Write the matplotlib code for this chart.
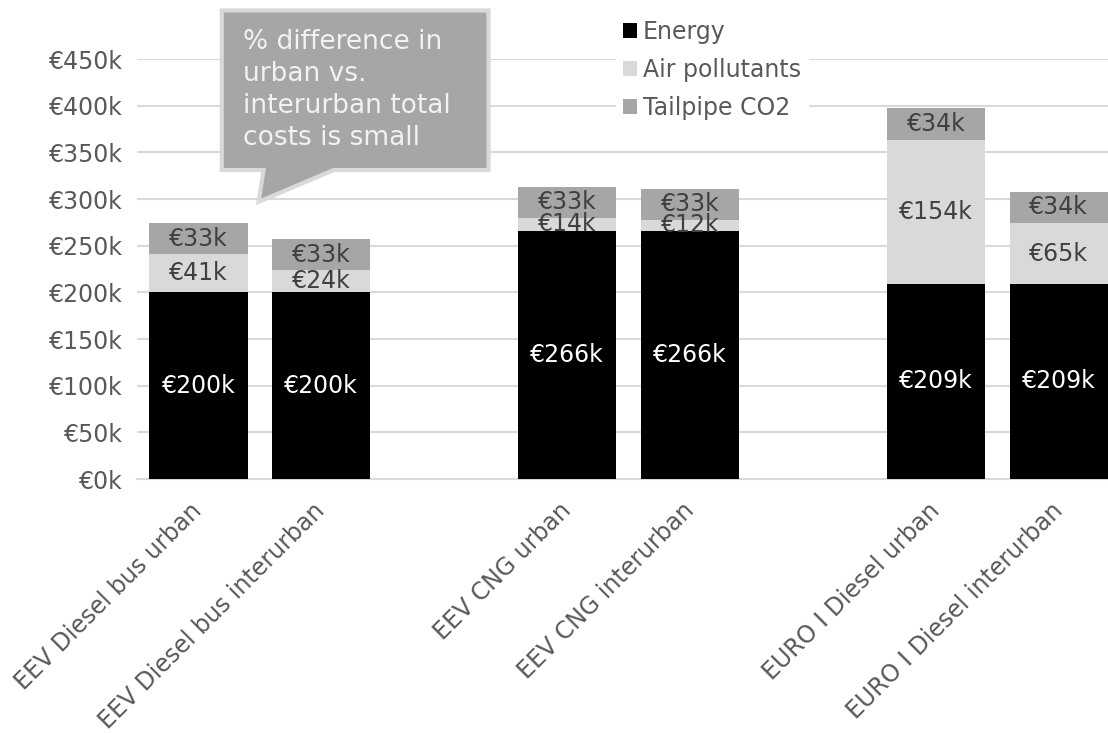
import numpy as np
import matplotlib.pyplot as plt
from matplotlib.patches import Polygon

categories = ['EEV Diesel bus urban', 'EEV Diesel bus interurban',
              'EEV CNG urban', 'EEV CNG interurban',
              'EURO I Diesel urban', 'EURO I Diesel interurban']
positions = [0, 1, 3, 4, 6, 7]
energy = [200, 200, 266, 266, 209, 209]
air_pollutants = [41, 24, 14, 12, 154, 65]
tailpipe_co2 = [33, 33, 33, 33, 34, 34]
y_ticks = [0, 50, 100, 150, 200, 250, 300, 350, 400, 450]

plt.rcParams['font.family'] = ['DejaVu Sans']
fs = 17
grey_txt = '#595959'

fig = plt.figure(figsize=(11.08, 7.33), dpi=100)
ax = fig.add_axes([0.1236, 0.3465, 0.8764, 0.5730])

x = np.array(positions, dtype=float)
e = np.array(energy)
a = np.array(air_pollutants)
c = np.array(tailpipe_co2)
w = 0.8

b1 = ax.bar(x, e, w, color='#000000', label='Energy', zorder=3)
b2 = ax.bar(x, a, w, bottom=e, color='#d9d9d9', label='Air pollutants', zorder=3)
b3 = ax.bar(x, c, w, bottom=e + a, color='#a6a6a6', label='Tailpipe CO2', zorder=3)

for xi, v in zip(x, e):
    ax.text(xi, v / 2, '€%dk' % v, ha='center', va='center',
            color='white', fontsize=fs, zorder=4)
for xi, v, bot in zip(x, a, e):
    ax.text(xi, bot + v / 2, '€%dk' % v, ha='center', va='center',
            color='#404040', fontsize=fs, zorder=4)
for xi, v, bot in zip(x, c, e + a):
    ax.text(xi, bot + v / 2, '€%dk' % v, ha='center', va='center',
            color='#404040', fontsize=fs, zorder=4)

ax.set_xlim(-0.5, 7.4)
ax.set_ylim(0, 450)
ax.set_yticks(y_ticks)
ax.set_yticklabels(['€%dk' % t for t in y_ticks], color=grey_txt, fontsize=fs)
ax.set_xticks(positions)
ax.set_xticklabels(categories, rotation=45, ha='right', va='center',
                   rotation_mode='anchor', color=grey_txt, fontsize=fs)
ax.tick_params(axis='y', length=0, pad=10)
ax.tick_params(axis='x', length=0, pad=20)
ax.grid(axis='y', color='#d9d9d9', linewidth=1.5, zorder=0)
for s in ['top', 'right', 'left']:
    ax.spines[s].set_visible(False)
ax.spines['bottom'].set_color('#d9d9d9')
ax.spines['bottom'].set_linewidth(1.5)

# callout
pts = [(0.19, 502), (2.36, 502), (2.36, 331), (1.10, 331),
       (0.49, 297), (0.53, 331), (0.19, 331)]
ax.add_patch(Polygon(pts, closed=True, facecolor='#a6a6a6', edgecolor='#d9d9d9',
                     linewidth=3, clip_on=False, zorder=5))
ax.text(0.36, 482, '% difference in\nurban vs.\ninterurban total\ncosts is small',
        ha='left', va='top', color='#f2f2f2', fontsize=19, linespacing=1.3,
        zorder=6, clip_on=False)

leg = fig.legend(handles=[b1, b2, b3], loc='upper left',
                 bbox_to_anchor=(604 / 1108, 1 - 1 / 733), frameon=True,
                 fontsize=fs, handlelength=0.6, handleheight=0.6,
                 handletextpad=0.25, labelspacing=0.6, borderpad=0.3)
leg.get_frame().set_facecolor('white')
leg.get_frame().set_edgecolor('white')
leg.get_frame().set_alpha(1)
for t in leg.get_texts():
    t.set_color(grey_txt)

fig.savefig('out.png', dpi=100)
